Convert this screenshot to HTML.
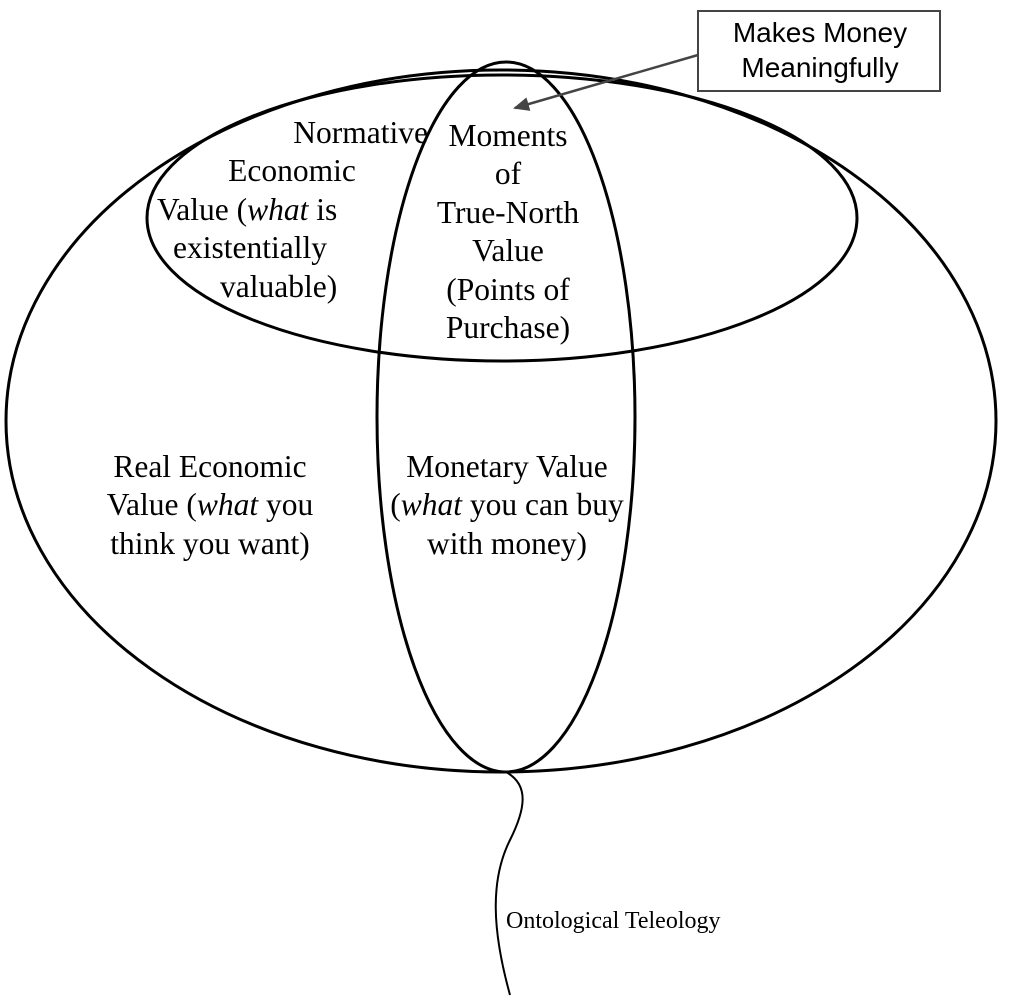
<!DOCTYPE html>
<html><head><style>
body{margin:0;background:#fff;width:1010px;height:1000px;overflow:hidden;position:relative;}
.t{position:absolute;font-family:"Liberation Serif",serif;font-size:31.5px;line-height:38.4px;color:#000;white-space:nowrap;}
.c{transform:translateX(-50%);text-align:center;}
</style></head><body>
<svg width="1010" height="1000" style="position:absolute;left:0;top:0">
<defs><marker id="a" markerWidth="16" markerHeight="14" refX="14" refY="7" orient="auto" markerUnits="userSpaceOnUse"><path d="M0,0 L16,7 L0,14 z" fill="#444"/></marker></defs>
<ellipse cx="501" cy="421" rx="495" ry="351" fill="none" stroke="#000" stroke-width="3"/>
<ellipse cx="502" cy="218" rx="355" ry="143" fill="none" stroke="#000" stroke-width="3"/>
<ellipse cx="506" cy="417" rx="129" ry="355" fill="none" stroke="#000" stroke-width="3"/>
<rect x="698" y="11" width="242" height="80" fill="#fff" stroke="#444" stroke-width="2"/>
<line x1="698" y1="55" x2="515" y2="108" stroke="#444" stroke-width="2.5" marker-end="url(#a)"/>
<path d="M506,772 C530,785 525,810 510,840 C490,880 492,930 510,995" fill="none" stroke="#000" stroke-width="2"/>
</svg>
<div class="t" style="left:700px;top:15px;width:240px;text-align:center;font-family:'Liberation Sans',sans-serif;font-size:28px;line-height:35px">Makes Money<br>Meaningfully</div>
<div class="t" style="right:582px;top:114px">Normative</div>
<div class="t c" style="left:292px;top:152px">Economic</div>
<div class="t" style="left:157px;top:191px">Value (<i>what</i> is</div>
<div class="t c" style="left:250px;top:229px">existentially</div>
<div class="t" style="left:220px;top:268px">valuable)</div>
<div class="t c" style="left:508px;top:117px">Moments<br>of<br>True-North<br>Value<br>(Points of<br>Purchase)</div>
<div class="t c" style="left:210px;top:448px">Real Economic<br>Value (<i>what</i> you<br>think you want)</div>
<div class="t c" style="left:507px;top:448px">Monetary Value<br>(<i>what</i> you can buy<br>with money)</div>
<div class="t" style="left:506px;top:906px;font-size:24px;line-height:30px">Ontological Teleology</div>
</body></html>
